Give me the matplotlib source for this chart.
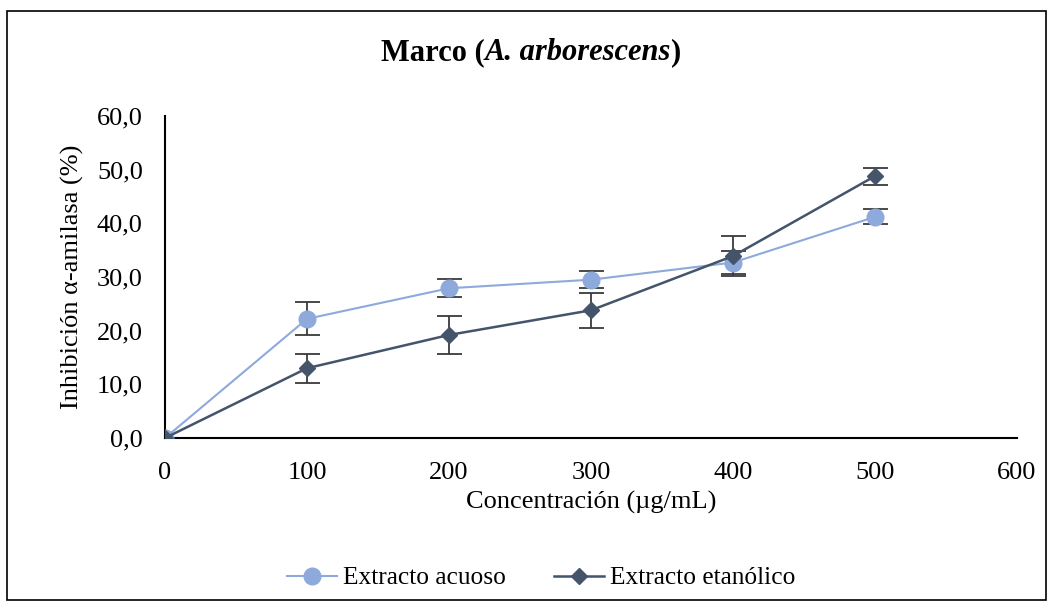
import numpy as np
import matplotlib.pyplot as plt
from matplotlib.patches import Rectangle

plt.rcParams["font.family"] = ["Liberation Serif", "DejaVu Serif"]

conc = [0, 100, 200, 300, 400, 500]
acuoso = [0.0, 22.2, 27.9, 29.5, 32.7, 41.2]
acuoso_err = [0.0, 3.1, 1.7, 1.6, 2.2, 1.4]
etanolico = [0.0, 13.0, 19.2, 23.8, 33.9, 48.8]
etanolico_err = [0.0, 2.7, 3.6, 3.3, 3.7, 1.6]

x_ticks = [0, 100, 200, 300, 400, 500, 600]
y_ticks = [0, 10, 20, 30, 40, 50, 60]

col_ac = "#8EA9DB"
col_et = "#44546A"
col_err = "#3A3A3A"

fig = plt.figure(figsize=(10.54, 6.12), dpi=100)
ax = fig.add_axes([165 / 1054, 1 - 438 / 612, (1017 - 165) / 1054, (438 - 116) / 612])

# outer chart border
fig.patches.append(Rectangle((7 / 1054, 1 - 600 / 612), 1039 / 1054, 589 / 612,
                             transform=fig.transFigure, fill=False,
                             edgecolor="black", linewidth=1.2))

ax.errorbar(conc, acuoso, yerr=acuoso_err, fmt="none", ecolor=col_err,
            elinewidth=1.3, capsize=9, capthick=1.3, zorder=2)
ax.errorbar(conc, etanolico, yerr=etanolico_err, fmt="none", ecolor=col_err,
            elinewidth=1.3, capsize=9, capthick=1.3, zorder=2)
ax.plot(conc, acuoso, color=col_ac, linewidth=1.5, marker="o", markersize=12,
        label="Extracto acuoso", zorder=3)
ax.plot(conc, etanolico, color=col_et, linewidth=1.8, marker="D", markersize=8.5,
        label="Extracto etanólico", zorder=4)

ax.set_xlim(0, 600)
ax.set_ylim(0, 60)
ax.set_xticks(x_ticks)
ax.set_yticks(y_ticks)
ax.set_yticklabels([f"{v:.1f}".replace(".", ",") for v in y_ticks])
ax.tick_params(axis="both", length=0, labelsize=19)
ax.tick_params(axis="x", pad=17)
ax.tick_params(axis="y", pad=16)
for s in ["top", "right"]:
    ax.spines[s].set_visible(False)
ax.spines["left"].set_linewidth(1.5)
ax.spines["bottom"].set_linewidth(1.5)

ax.set_xlabel("Concentración (µg/mL)", fontsize=19, labelpad=5)
ax.set_ylabel("Inhibición α-amilasa (%)", fontsize=19, labelpad=9)

# title: bold with bold-italic species name
fig.canvas.draw()
r = fig.canvas.get_renderer()
parts = [("Marco (", "normal"), ("A. arborescens", "italic"), (")", "normal")]
texts = []
for s, st in parts:
    t = fig.text(0, 1 - 53 / 612, s, fontsize=22, fontweight="bold",
                 fontstyle=st, va="center", ha="left")
    texts.append(t)
widths = [t.get_window_extent(r).width for t in texts]
x0 = 531 - sum(widths) / 2
for t, w in zip(texts, widths):
    t.set_x(x0 / 1054)
    x0 += w

fig.legend(loc="center", bbox_to_anchor=(541 / 1054, 1 - 578 / 612), ncol=2,
           frameon=False, fontsize=18.3, handlelength=1.97, columnspacing=1.9,
           handletextpad=0.24)

fig.savefig("out.png", dpi=100)
